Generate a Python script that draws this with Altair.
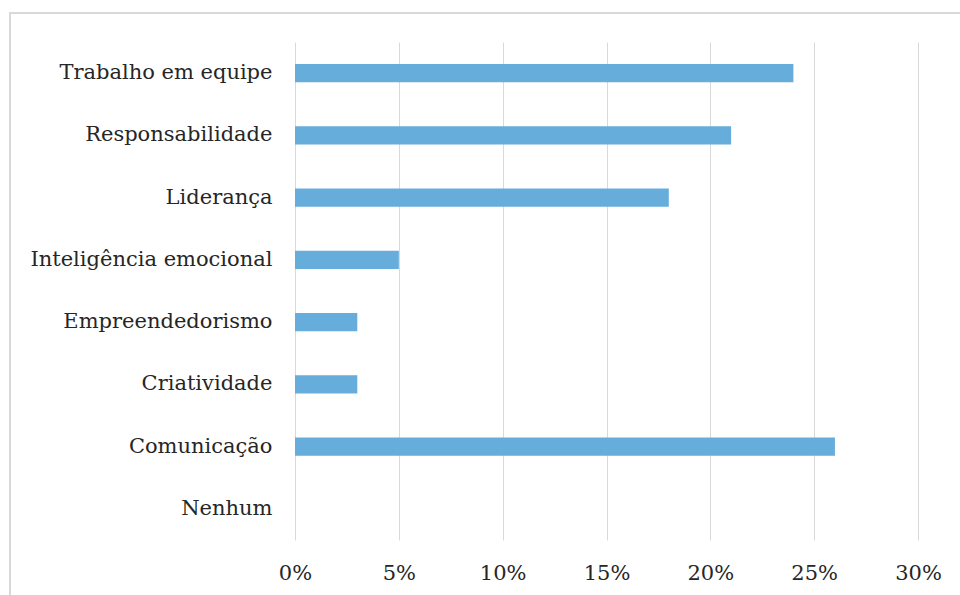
import altair as alt
import pandas as pd

categories = ["Trabalho em equipe", "Responsabilidade", "Liderança",
              "Inteligência emocional", "Empreendedorismo", "Criatividade",
              "Comunicação", "Nenhum"]
values = [0.24, 0.21, 0.18, 0.05, 0.03, 0.03, 0.26, 0.0]

df = pd.DataFrame({"cat": categories, "val": values})

FONT = "DejaVu Serif"

bars = alt.Chart(df).mark_bar(color="#67addb").encode(
    y=alt.Y("cat:N", sort=categories, title=None,
            scale=alt.Scale(paddingInner=0.71, paddingOuter=0.355),
            axis=alt.Axis(domain=False, ticks=False,
                          labelFontSize=21, labelColor="#262626",
                          labelPadding=23, grid=False, labelLimit=400)),
    x=alt.X("val:Q", title=None,
            scale=alt.Scale(domain=[0, 0.30], nice=False),
            axis=alt.Axis(format=".0%", values=[0, .05, .10, .15, .20, .25, .30],
                          domain=False, ticks=False,
                          labelFontSize=21, labelColor="#262626",
                          labelFlush=False,
                          labelPadding=22, grid=True, gridColor="#d9d9d9",
                          gridWidth=1)),
)

border = alt.Chart(df).mark_rect(fill=None, stroke="#d9d9d9", strokeWidth=2).encode(
    x=alt.value(-285), x2=alt.value(680), y=alt.value(-29), y2=alt.value(570)
)

chart = alt.layer(bars, border).properties(
    width=623, height=498,
    autosize=alt.AutoSizeParams(type="none"),
    padding={"left": 295, "top": 42, "right": 42, "bottom": 55},
    background="white",
).configure_view(stroke=None).configure_axis(labelFont=FONT)

chart.save("out.html", embed_options={"renderer": "svg", "actions": False})
